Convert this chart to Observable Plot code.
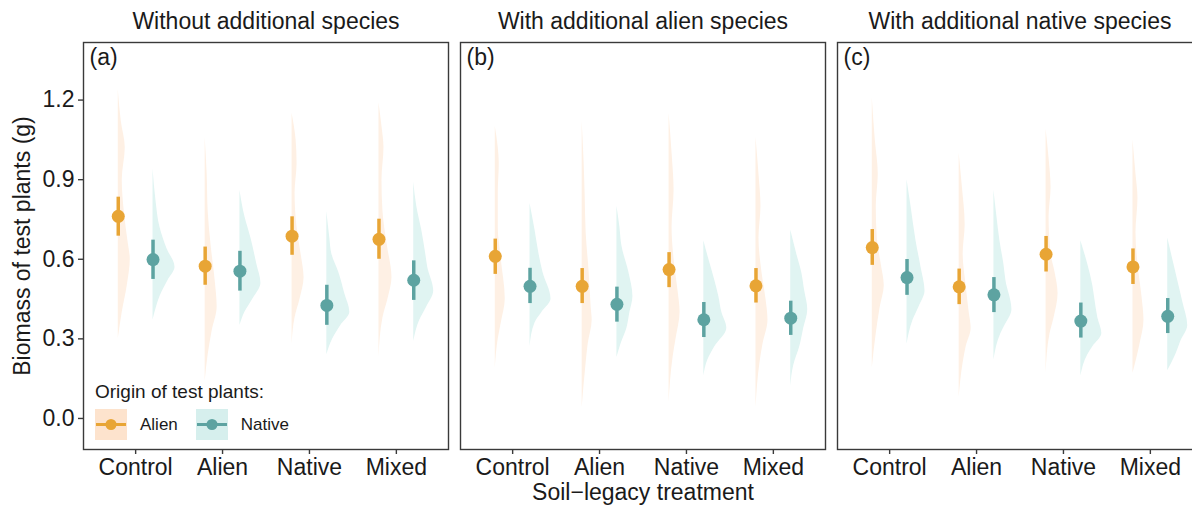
<!DOCTYPE html>
<html>
<head>
<meta charset="utf-8">
<script src="https://cdn.jsdelivr.net/npm/d3@7"></script>
<script src="https://cdn.jsdelivr.net/npm/@observablehq/plot@0.6"></script>
<style>
  html, body { margin: 0; padding: 0; background: #fff; overflow: hidden; }
  #wrap { position: relative; width: 1192px; height: 507px; overflow: hidden; font-family: "Liberation Sans", Arial, sans-serif; }
  #chart svg { max-width: none !important; display: block; }
  #legend { position: absolute; left: 95px; top: 381px; color: #1a1a1a; }
</style>
</head>
<body>
<div id="wrap">
  <div id="chart"></div>
  <div id="legend"></div>
</div>
<script>
// ---------- data ----------
const facets = ["Without additional species", "With additional alien species", "With additional native species"];
const panelTags = ["(a)", "(b)", "(c)"];
const treatments = ["Control", "Alien", "Native", "Mixed"];
const origins = ["Alien", "Native"];
const yTicks = [0, 0.3, 0.6, 0.9, 1.2];

// mean biomass and interval, [facet][treatment]
const alienMean = [[0.762, 0.574, 0.687, 0.675], [0.611, 0.498, 0.561, 0.500], [0.644, 0.496, 0.619, 0.571]];
const alienLo   = [[0.687, 0.502, 0.615, 0.600], [0.543, 0.433, 0.493, 0.435], [0.577, 0.429, 0.552, 0.505]];
const alienHi   = [[0.834, 0.646, 0.760, 0.751], [0.676, 0.565, 0.625, 0.565], [0.712, 0.563, 0.686, 0.639]];
const nativeMean = [[0.599, 0.555, 0.426, 0.521], [0.498, 0.430, 0.372, 0.378], [0.531, 0.466, 0.367, 0.385]];
const nativeLo   = [[0.524, 0.480, 0.351, 0.445], [0.433, 0.363, 0.305, 0.313], [0.464, 0.399, 0.303, 0.320]];
const nativeHi   = [[0.672, 0.630, 0.502, 0.594], [0.566, 0.495, 0.437, 0.442], [0.599, 0.531, 0.435, 0.452]];

// half-violin density profiles [value, density], [facet][treatment]
const alienViolin = [
  [
    [[1.24,0],[1.12,3],[1.02,7],[0.90,4],[0.78,6],[0.66,10],[0.60,12],[0.50,9],[0.40,4],[0.30,0]],
    [[1.06,0],[0.92,2],[0.78,3],[0.65,6],[0.52,10],[0.42,12],[0.33,7],[0.24,3],[0.14,0]],
    [[1.15,0],[1.05,4],[0.96,5],[0.85,3],[0.72,5],[0.62,9],[0.53,12],[0.45,8],[0.38,3],[0.28,0]],
    [[1.19,0],[1.10,3],[1.02,5],[0.90,3],[0.78,4],[0.66,8],[0.53,13],[0.45,9],[0.38,4],[0.23,0]]
  ],
  [
    [[1.10,0],[1.02,3],[0.96,4],[0.85,3],[0.72,3],[0.60,6],[0.45,10],[0.36,6],[0.30,3],[0.19,0]],
    [[1.12,0],[0.96,2],[0.84,3],[0.70,4],[0.55,7],[0.42,9],[0.37,10],[0.28,6],[0.21,4],[0.04,0]],
    [[1.15,0],[1.00,3],[0.86,5],[0.72,3],[0.60,5],[0.48,9],[0.40,11],[0.30,7],[0.23,4],[0.06,0]],
    [[1.06,0],[0.92,3],[0.80,5],[0.68,3],[0.55,6],[0.45,10],[0.37,12],[0.28,7],[0.21,4],[0.04,0]]
  ],
  [
    [[1.21,0],[1.05,3],[0.92,6],[0.80,4],[0.68,5],[0.58,9],[0.50,12],[0.42,8],[0.32,4],[0.19,0]],
    [[1.00,0],[0.88,3],[0.73,6],[0.62,4],[0.50,7],[0.40,10],[0.34,12],[0.27,7],[0.21,4],[0.08,0]],
    [[1.09,0],[0.98,3],[0.87,5],[0.76,3],[0.62,5],[0.55,9],[0.47,12],[0.38,8],[0.32,4],[0.17,0]],
    [[1.05,0],[0.92,3],[0.83,5],[0.70,3],[0.58,5],[0.46,9],[0.37,11],[0.28,7],[0.23,4],[0.17,0]]
  ]
];
const nativeViolin = [
  [
    [[0.94,0],[0.82,3],[0.72,7],[0.64,14],[0.57,22],[0.52,15],[0.46,7],[0.40,2],[0.37,0]],
    [[0.86,0],[0.76,5],[0.68,11],[0.58,17],[0.51,21],[0.45,13],[0.40,5],[0.35,0]],
    [[0.78,0],[0.68,3],[0.62,5],[0.55,12],[0.47,18],[0.40,23],[0.35,14],[0.30,6],[0.24,0]],
    [[0.89,0],[0.80,3],[0.71,8],[0.62,12],[0.57,14],[0.48,20],[0.42,13],[0.37,6],[0.29,0]]
  ],
  [
    [[0.81,0],[0.71,5],[0.62,9],[0.55,13],[0.45,21],[0.40,12],[0.36,5],[0.27,0]],
    [[0.80,0],[0.72,3],[0.65,5],[0.55,12],[0.46,16],[0.40,13],[0.34,10],[0.28,4],[0.23,0]],
    [[0.67,0],[0.60,5],[0.52,11],[0.46,15],[0.40,18],[0.34,23],[0.27,11],[0.22,4],[0.16,0]],
    [[0.71,0],[0.62,6],[0.55,11],[0.48,14],[0.41,17],[0.34,13],[0.27,9],[0.20,3],[0.12,0]]
  ],
  [
    [[0.90,0],[0.80,4],[0.67,9],[0.57,14],[0.48,18],[0.42,12],[0.37,6],[0.28,0]],
    [[0.86,0],[0.76,3],[0.67,6],[0.58,10],[0.52,12],[0.41,18],[0.35,11],[0.32,7],[0.22,0]],
    [[0.67,0],[0.58,7],[0.50,12],[0.45,14],[0.38,17],[0.32,21],[0.27,12],[0.24,7],[0.16,0]],
    [[0.68,0],[0.60,5],[0.52,10],[0.44,15],[0.35,20],[0.29,13],[0.24,8],[0.18,0]]
  ]
];

// ---------- styles ----------
const pointColor = {Alien: "#E8A535", Native: "#5DA3A1"};
const violinColor = {Alien: "#FEF0E4", Native: "#E0F4F2"};
const legendKeyColor = {Alien: "#FDE3CD", Native: "#D6EFED"};
const dodge = {Alien: -0.2, Native: 0.2};
const densityScale = 0.0115; // x units per density unit
const FONT = "Liberation Sans, Arial, sans-serif";

// ---------- tables ----------
const summary = [];
const violinRows = [];
facets.forEach((f, fi) => {
  treatments.forEach((t, ti) => {
    origins.forEach(o => {
      const isA = o === "Alien";
      const pos = ti + 1 + dodge[o];
      summary.push({
        facet: f, origin: o, pos,
        mean: (isA ? alienMean : nativeMean)[fi][ti],
        lo: (isA ? alienLo : nativeLo)[fi][ti],
        hi: (isA ? alienHi : nativeHi)[fi][ti]
      });
      const prof = (isA ? alienViolin : nativeViolin)[fi][ti].slice().sort((a, b) => a[0] - b[0]);
      prof.forEach(([y, d]) => violinRows.push({facet: f, origin: o, key: `${fi}-${ti}-${o}`, pos, y, d}));
    });
  });
});
const tagRows = facets.map((f, i) => ({facet: f, tag: panelTags[i]}));
const xTitleRows = [{facet: facets[1], label: "Soil\u2212legacy treatment"}];

const chart = Plot.plot({
  width: 1202,
  height: 507,
  marginLeft: 82,
  marginRight: 0,
  marginTop: 42,
  marginBottom: 58,
  style: {fontFamily: FONT, color: "#1a1a1a", background: "transparent", maxWidth: "none"},
  fx: {domain: facets, paddingInner: 0.033, paddingOuter: 0, axis: null},
  x: {domain: [0.4, 4.6], axis: null},
  y: {domain: [-0.117, 1.417], axis: null},
  color: {type: "identity"},
  marks: [
    Plot.areaX(violinRows, {
      fx: "facet", y: "y", x1: "pos", x2: r => r.pos + r.d * densityScale,
      z: "key", fill: r => violinColor[r.origin], curve: "monotone-y"
    }),
    Plot.ruleX(summary, {fx: "facet", x: "pos", y1: "lo", y2: "hi", stroke: r => pointColor[r.origin], strokeWidth: 3.5}),
    Plot.dot(summary, {fx: "facet", x: "pos", y: "mean", r: 6.5, fill: r => pointColor[r.origin], stroke: "none"}),
    Plot.frame({stroke: "#3a3a3a", strokeWidth: 1.4}),
    Plot.text(tagRows, {fx: "facet", text: "tag", frameAnchor: "top-left", textAnchor: "start", lineAnchor: "top", dx: 6, dy: 6, fontSize: 23, fill: "#1a1a1a"}),
    Plot.text(xTitleRows, {fx: "facet", text: "label", frameAnchor: "bottom", lineAnchor: "top", dy: 34, fontSize: 23, fill: "#1a1a1a"}),
    Plot.axisFx({anchor: "top", label: null, tickSize: 0, tickPadding: 14, fontSize: 23}),
    Plot.axisX({anchor: "bottom", ticks: [1, 2, 3, 4], tickFormat: d => treatments[d - 1], tickSize: 5, tickPadding: 4, fontSize: 23, label: null, stroke: "#3a3a3a", strokeWidth: 1.4}),
    Plot.axisY({ticks: yTicks, tickFormat: d3.format(".1f"), tickSize: 5, tickPadding: 4, fontSize: 23,
      label: "Biomass of test plants (g)", labelAnchor: "center", labelArrow: "none", labelOffset: 70, stroke: "#3a3a3a", strokeWidth: 1.4})
  ]
});
chart.style.maxWidth = "none";
document.getElementById("chart").appendChild(chart);

// ---------- legend (HTML overlay inside panel a) ----------
const legend = document.getElementById("legend");
legend.innerHTML = `<div style="font-size:19px;line-height:22px;margin-bottom:6px;">Origin of test plants:</div>` +
  `<div style="display:flex;align-items:center;">` +
  origins.map(o => `<div style="display:flex;align-items:center;margin-right:18px;">
     <svg width="32" height="31" style="display:block">
       <rect x="0" y="0" width="32" height="31" fill="${legendKeyColor[o]}"></rect>
       <line x1="1" x2="31" y1="15.5" y2="15.5" stroke="${pointColor[o]}" stroke-width="3"></line>
       <circle cx="16" cy="15.5" r="5.5" fill="${pointColor[o]}"></circle>
     </svg>
     <span style="font-size:17px;margin-left:13px;">${o}</span></div>`).join("") +
  `</div>`;
</script>
</body>
</html>
